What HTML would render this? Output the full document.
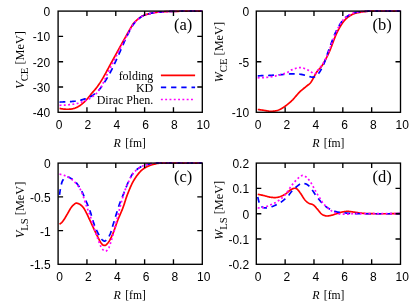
<!DOCTYPE html>
<html><head><meta charset="utf-8"><title>Optical potentials</title>
<style>html,body{margin:0;padding:0;background:#fff;}body{width:415px;height:303px;overflow:hidden;font-family:"Liberation Sans",sans-serif;}svg{display:block;will-change:transform;}</style>
</head><body>
<svg width="415" height="303" viewBox="0 0 415 303">
<rect width="100%" height="100%" fill="#fff"/>
<g>
<clipPath id="clipa"><rect x="58.10" y="10.10" width="144.20" height="103.20"/></clipPath>
<path d="M59.54,108.40L59.86,108.46 60.33,108.55 60.81,108.64 61.30,108.73 61.79,108.81 62.26,108.89 62.72,108.96 63.15,109.01 63.55,109.06 63.96,109.10 64.35,109.14 64.75,109.17 65.14,109.20 65.54,109.22 65.93,109.24 66.32,109.26 66.71,109.27 67.11,109.27 67.50,109.27 67.91,109.26 68.31,109.25 68.72,109.24 69.12,109.22 69.53,109.20 69.95,109.17 70.36,109.14 70.77,109.10 71.18,109.05 71.59,108.99 72.00,108.92 72.40,108.85 72.81,108.76 73.21,108.66 73.61,108.55 74.01,108.44 74.41,108.32 74.80,108.19 75.20,108.05 75.59,107.90 75.99,107.74 76.38,107.57 76.78,107.38 77.17,107.19 77.57,106.99 77.96,106.77 78.36,106.54 78.76,106.30 79.16,106.05 79.56,105.78 79.96,105.51 80.35,105.23 80.75,104.93 81.15,104.64 81.54,104.33 81.93,104.02 82.33,103.70 82.71,103.37 83.10,103.05 83.48,102.71 83.86,102.37 84.24,102.02 84.61,101.67 84.99,101.30 85.38,100.92 85.76,100.53 86.15,100.12 86.54,99.71 86.94,99.27 87.35,98.81 87.76,98.34 88.17,97.84 88.60,97.32 89.02,96.79 89.45,96.26 89.87,95.72 90.30,95.18 90.73,94.64 91.15,94.10 91.57,93.58 91.99,93.07 92.40,92.58 92.80,92.11 93.20,91.66 93.60,91.21 94.00,90.76 94.40,90.31 94.80,89.86 95.20,89.38 95.61,88.89 96.03,88.38 96.45,87.83 96.89,87.25 97.33,86.66 97.76,86.07 98.19,85.47 98.62,84.86 99.05,84.24 99.50,83.58 99.96,82.90 100.43,82.16 100.93,81.38 101.45,80.54 102.00,79.63 102.59,78.65 103.21,77.58 103.86,76.42 104.55,75.18 105.27,73.88 106.00,72.53 106.75,71.14 107.52,69.72 108.28,68.30 109.05,66.87 109.82,65.45 110.57,64.06 111.31,62.71 112.05,61.37 112.80,60.00 113.56,58.62 114.33,57.23 115.09,55.84 115.86,54.46 116.61,53.09 117.35,51.75 118.08,50.44 118.78,49.17 119.46,47.94 120.11,46.77 120.73,45.65 121.33,44.56 121.92,43.51 122.49,42.48 123.04,41.49 123.58,40.53 124.09,39.60 124.60,38.70 125.08,37.83 125.56,36.98 126.01,36.17 126.45,35.39 126.87,34.64 127.26,33.94 127.63,33.28 127.98,32.65 128.32,32.05 128.64,31.48 128.95,30.93 129.26,30.39 129.56,29.87 129.87,29.35 130.17,28.83 130.49,28.30 130.80,27.79 131.09,27.29 131.36,26.80 131.63,26.33 131.90,25.86 132.16,25.41 132.44,24.96 132.73,24.52 133.03,24.08 133.36,23.63 133.71,23.19 134.09,22.74 134.52,22.28 134.98,21.80 135.47,21.32 135.99,20.84 136.52,20.36 137.07,19.88 137.61,19.42 138.16,18.97 138.69,18.54 139.20,18.14 139.69,17.77 140.15,17.43 140.57,17.12 140.95,16.85 141.31,16.61 141.66,16.39 141.99,16.19 142.31,16.01 142.64,15.84 142.99,15.68 143.35,15.52 143.73,15.36 144.16,15.19 144.62,15.02 145.12,14.84 145.66,14.67 146.23,14.49 146.82,14.32 147.43,14.15 148.05,13.99 148.69,13.83 149.33,13.67 149.96,13.52 150.60,13.38 151.22,13.25 151.83,13.12 152.41,13.01 152.95,12.90 153.46,12.80 153.97,12.71 154.47,12.63 154.98,12.55 155.52,12.47 156.10,12.40 156.73,12.33 157.42,12.26 158.19,12.18 159.04,12.11 159.94,12.04 160.86,11.97 161.80,11.89 162.78,11.82 163.81,11.75 164.90,11.69 166.06,11.62 167.32,11.56 168.67,11.50 170.14,11.45 171.73,11.40 173.46,11.35 175.45,11.31 177.77,11.28 180.33,11.25 183.07,11.22 185.91,11.20 188.78,11.18 191.60,11.16 194.29,11.15 196.78,11.13 199.00,11.12 200.86,11.11 202.30,11.10" fill="none" stroke="#ff0000" stroke-width="1.7" clip-path="url(#clipa)"/>
<path d="M59.54,102.03L59.87,102.03 60.65,102.02 61.50,102.00 62.40,101.99 63.33,101.97 64.28,101.95 65.23,101.92 66.17,101.89 67.06,101.85 67.91,101.80 68.72,101.75 69.53,101.69 70.34,101.64 71.15,101.58 71.96,101.51 72.76,101.44 73.57,101.36 74.37,101.27 75.18,101.17 75.98,101.05 76.77,100.93 77.57,100.79 78.37,100.63 79.20,100.45 80.03,100.26 80.87,100.06 81.71,99.84 82.54,99.62 83.36,99.39 84.15,99.16 84.91,98.93 85.63,98.70 86.31,98.47 86.94,98.26 87.51,98.05 88.03,97.85 88.51,97.65 88.95,97.46 89.36,97.26 89.74,97.06 90.11,96.86 90.48,96.66 90.84,96.44 91.20,96.22 91.59,95.98 91.99,95.73 92.40,95.47 92.82,95.20 93.23,94.92 93.65,94.64 94.06,94.35 94.47,94.05 94.88,93.74 95.29,93.43 95.70,93.10 96.10,92.77 96.50,92.42 96.89,92.06 97.28,91.69 97.66,91.31 98.04,90.93 98.42,90.53 98.79,90.13 99.16,89.71 99.53,89.29 99.90,88.85 100.26,88.40 100.63,87.95 100.99,87.48 101.36,87.00 101.72,86.51 102.08,86.02 102.43,85.52 102.79,85.00 103.14,84.48 103.49,83.95 103.84,83.40 104.20,82.84 104.56,82.26 104.92,81.67 105.30,81.05 105.69,80.42 106.09,79.76 106.50,79.06 106.93,78.33 107.37,77.58 107.81,76.82 108.25,76.04 108.70,75.26 109.13,74.49 109.56,73.73 109.97,72.98 110.36,72.26 110.73,71.57 111.08,70.90 111.42,70.26 111.74,69.64 112.04,69.03 112.34,68.43 112.63,67.84 112.91,67.25 113.19,66.66 113.47,66.06 113.75,65.46 114.04,64.85 114.34,64.23 114.64,63.60 114.93,62.98 115.22,62.35 115.51,61.73 115.80,61.10 116.10,60.47 116.39,59.82 116.69,59.17 116.99,58.50 117.30,57.82 117.62,57.11 117.94,56.39 118.28,55.63 118.62,54.85 118.98,54.05 119.34,53.23 119.70,52.39 120.07,51.55 120.44,50.70 120.81,49.85 121.18,49.00 121.55,48.16 121.91,47.33 122.27,46.52 122.62,45.72 122.98,44.91 123.33,44.11 123.68,43.31 124.03,42.51 124.38,41.71 124.73,40.93 125.07,40.15 125.42,39.38 125.76,38.63 126.11,37.88 126.45,37.16 126.79,36.45 127.14,35.74 127.48,35.04 127.82,34.36 128.17,33.68 128.51,33.02 128.84,32.36 129.18,31.72 129.51,31.10 129.84,30.49 130.17,29.89 130.49,29.32 130.80,28.76 131.09,28.23 131.36,27.72 131.63,27.23 131.90,26.75 132.16,26.28 132.44,25.82 132.73,25.36 133.03,24.90 133.36,24.44 133.71,23.98 134.09,23.50 134.52,23.00 134.98,22.49 135.47,21.97 135.99,21.44 136.52,20.91 137.07,20.38 137.61,19.87 138.16,19.37 138.69,18.90 139.20,18.46 139.69,18.05 140.15,17.68 140.57,17.35 140.95,17.06 141.31,16.80 141.66,16.57 141.99,16.37 142.31,16.18 142.64,16.00 142.99,15.83 143.35,15.67 143.73,15.50 144.16,15.33 144.62,15.15 145.12,14.96 145.66,14.77 146.23,14.58 146.82,14.40 147.43,14.22 148.05,14.04 148.69,13.87 149.33,13.70 149.96,13.55 150.60,13.40 151.22,13.26 151.83,13.12 152.41,13.00 152.95,12.89 153.46,12.79 153.97,12.70 154.47,12.62 154.98,12.54 155.52,12.46 156.10,12.39 156.73,12.32 157.42,12.25 158.19,12.18 159.04,12.11 159.94,12.04 160.86,11.97 161.80,11.89 162.78,11.82 163.81,11.75 164.90,11.69 166.06,11.62 167.32,11.56 168.67,11.50 170.14,11.45 171.73,11.40 173.46,11.35 175.45,11.31 177.77,11.28 180.33,11.25 183.07,11.22 185.91,11.20 188.78,11.18 191.60,11.16 194.29,11.15 196.78,11.13 199.00,11.12 200.86,11.11 202.30,11.10" fill="none" stroke="#0000ff" stroke-width="1.7" stroke-dasharray="5.8 4.6" clip-path="url(#clipa)"/>
<path d="M59.54,105.29L59.87,105.28 60.65,105.25 61.50,105.22 62.40,105.18 63.33,105.14 64.28,105.10 65.23,105.05 66.17,104.99 67.06,104.92 67.91,104.84 68.72,104.75 69.53,104.66 70.34,104.57 71.15,104.47 71.96,104.37 72.76,104.25 73.57,104.13 74.37,103.99 75.18,103.85 75.98,103.69 76.77,103.51 77.57,103.32 78.37,103.11 79.20,102.87 80.03,102.61 80.87,102.34 81.71,102.06 82.54,101.77 83.36,101.47 84.15,101.17 84.91,100.88 85.63,100.58 86.31,100.30 86.94,100.03 87.51,99.77 88.03,99.52 88.51,99.28 88.95,99.04 89.36,98.80 89.74,98.57 90.11,98.33 90.48,98.08 90.84,97.83 91.20,97.56 91.59,97.29 91.99,96.99 92.40,96.69 92.82,96.38 93.24,96.07 93.66,95.75 94.08,95.42 94.49,95.08 94.91,94.73 95.31,94.37 95.72,94.00 96.12,93.62 96.51,93.23 96.89,92.82 97.27,92.39 97.64,91.96 98.00,91.50 98.36,91.04 98.72,90.56 99.07,90.08 99.42,89.58 99.76,89.08 100.09,88.56 100.42,88.05 100.75,87.53 101.07,87.00 101.38,86.47 101.69,85.94 101.98,85.40 102.26,84.86 102.54,84.32 102.82,83.76 103.10,83.19 103.37,82.61 103.65,82.02 103.94,81.42 104.23,80.80 104.53,80.17 104.84,79.51 105.16,78.82 105.48,78.11 105.80,77.39 106.13,76.65 106.46,75.90 106.79,75.15 107.12,74.41 107.45,73.67 107.78,72.95 108.11,72.25 108.43,71.57 108.74,70.91 109.06,70.27 109.38,69.64 109.69,69.02 110.01,68.41 110.32,67.80 110.63,67.21 110.94,66.61 111.25,66.02 111.56,65.42 111.87,64.83 112.18,64.23 112.48,63.64 112.78,63.05 113.07,62.48 113.36,61.91 113.65,61.34 113.94,60.77 114.23,60.19 114.53,59.61 114.83,59.02 115.14,58.41 115.45,57.79 115.78,57.15 116.11,56.49 116.44,55.84 116.76,55.18 117.09,54.51 117.43,53.84 117.77,53.15 118.12,52.44 118.49,51.71 118.87,50.96 119.26,50.19 119.67,49.38 120.11,48.54 120.57,47.65 121.07,46.70 121.60,45.70 122.16,44.66 122.72,43.60 123.30,42.54 123.87,41.47 124.43,40.42 124.98,39.40 125.50,38.42 126.00,37.50 126.45,36.65 126.87,35.86 127.26,35.12 127.63,34.41 127.98,33.74 128.32,33.10 128.64,32.48 128.95,31.88 129.26,31.30 129.56,30.74 129.87,30.18 130.17,29.62 130.49,29.06 130.80,28.52 131.09,27.99 131.36,27.48 131.63,26.98 131.90,26.50 132.16,26.03 132.44,25.56 132.73,25.10 133.03,24.64 133.36,24.18 133.71,23.71 134.09,23.24 134.52,22.76 134.98,22.27 135.47,21.76 135.99,21.26 136.52,20.75 137.07,20.26 137.61,19.77 138.16,19.30 138.69,18.85 139.20,18.43 139.69,18.03 140.15,17.68 140.57,17.36 140.95,17.07 141.31,16.82 141.66,16.59 141.99,16.38 142.31,16.19 142.64,16.01 142.99,15.84 143.35,15.67 143.73,15.51 144.16,15.33 144.62,15.15 145.12,14.96 145.66,14.77 146.23,14.58 146.82,14.40 147.43,14.22 148.05,14.04 148.69,13.87 149.33,13.70 149.96,13.55 150.60,13.40 151.22,13.26 151.83,13.12 152.41,13.00 152.95,12.89 153.46,12.79 153.97,12.70 154.47,12.62 154.98,12.54 155.52,12.46 156.10,12.39 156.73,12.32 157.42,12.25 158.19,12.18 159.04,12.11 159.94,12.04 160.86,11.97 161.80,11.89 162.78,11.82 163.81,11.75 164.90,11.69 166.06,11.62 167.32,11.56 168.67,11.50 170.14,11.45 171.73,11.40 173.46,11.35 175.45,11.31 177.77,11.28 180.33,11.25 183.07,11.22 185.91,11.20 188.78,11.18 191.60,11.16 194.29,11.15 196.78,11.13 199.00,11.12 200.86,11.11 202.30,11.10" fill="none" stroke="#ff00ff" stroke-width="1.7" stroke-dasharray="1.9 2.4" clip-path="url(#clipa)"/>
<rect x="58.10" y="11.10" width="144.20" height="101.20" fill="none" stroke="#000" stroke-width="1.35"/>
<path d="M86.94,112.30v-5M86.94,11.10v5M115.78,112.30v-5M115.78,11.10v5M144.62,112.30v-5M144.62,11.10v5M173.46,112.30v-5M173.46,11.10v5M58.10,36.40h5M202.30,36.40h-5M58.10,61.70h5M202.30,61.70h-5M58.10,87.00h5M202.30,87.00h-5" stroke="#000" stroke-width="1.35" fill="none"/>
<text x="59.10" y="128.50" text-anchor="middle" font-family="Liberation Sans, sans-serif" font-size="12">0</text>
<text x="87.94" y="128.50" text-anchor="middle" font-family="Liberation Sans, sans-serif" font-size="12">2</text>
<text x="116.78" y="128.50" text-anchor="middle" font-family="Liberation Sans, sans-serif" font-size="12">4</text>
<text x="145.62" y="128.50" text-anchor="middle" font-family="Liberation Sans, sans-serif" font-size="12">6</text>
<text x="174.46" y="128.50" text-anchor="middle" font-family="Liberation Sans, sans-serif" font-size="12">8</text>
<text x="203.30" y="128.50" text-anchor="middle" font-family="Liberation Sans, sans-serif" font-size="12">10</text>
<text x="50.10" y="16.10" text-anchor="end" font-family="Liberation Sans, sans-serif" font-size="12">0</text>
<text x="50.10" y="41.40" text-anchor="end" font-family="Liberation Sans, sans-serif" font-size="12">-10</text>
<text x="50.10" y="66.70" text-anchor="end" font-family="Liberation Sans, sans-serif" font-size="12">-20</text>
<text x="50.10" y="92.00" text-anchor="end" font-family="Liberation Sans, sans-serif" font-size="12">-30</text>
<text x="50.10" y="117.30" text-anchor="end" font-family="Liberation Sans, sans-serif" font-size="12">-40</text>
<text x="113.60" y="147.30" font-family="Liberation Serif, serif" font-size="12"><tspan font-style="italic">R</tspan><tspan dx="4.3" font-size="11.6">[fm]</tspan></text>
<text transform="translate(24.10,59.90) rotate(-90)" text-anchor="middle" font-family="Liberation Serif, serif" font-size="12"><tspan font-style="italic">V</tspan><tspan font-size="10.7" dy="3.8">CE</tspan><tspan dy="-3.8" font-size="12.3"> [MeV]</tspan></text>
<text x="183.10" y="30.20" text-anchor="middle" font-family="Liberation Serif, serif" font-size="16.5">(a)</text>
<text x="153.30" y="79.70" text-anchor="end" font-family="Liberation Serif, serif" font-size="12">folding</text>
<path d="M160.9,75.30H195.1" fill="none" stroke="#ff0000" stroke-width="1.7"/>
<text x="153.30" y="91.80" text-anchor="end" font-family="Liberation Serif, serif" font-size="12">KD</text>
<path d="M160.9,87.40H195.1" fill="none" stroke="#0000ff" stroke-width="1.7" stroke-dasharray="5.3 4.9"/>
<text x="153.30" y="103.90" text-anchor="end" font-family="Liberation Serif, serif" font-size="12">Dirac Phen.</text>
<path d="M160.9,99.50H195.1" fill="none" stroke="#ff00ff" stroke-width="1.7" stroke-dasharray="1.9 2.4"/>
</g>
<g>
<clipPath id="clipb"><rect x="256.30" y="10.10" width="144.20" height="103.20"/></clipPath>
<path d="M257.74,109.47L258.17,109.53 258.79,109.61 259.45,109.71 260.14,109.80 260.84,109.90 261.54,110.00 262.22,110.10 262.89,110.19 263.51,110.28 264.11,110.37 264.71,110.47 265.31,110.58 265.91,110.69 266.51,110.80 267.12,110.91 267.72,111.01 268.32,111.10 268.92,111.18 269.52,111.24 270.12,111.27 270.72,111.29 271.32,111.28 271.92,111.27 272.52,111.25 273.12,111.21 273.72,111.16 274.33,111.10 274.93,111.02 275.53,110.91 276.13,110.79 276.73,110.64 277.33,110.47 277.93,110.28 278.53,110.05 279.13,109.80 279.73,109.52 280.33,109.23 280.93,108.91 281.54,108.57 282.14,108.21 282.74,107.84 283.34,107.45 283.94,107.05 284.54,106.65 285.14,106.23 285.74,105.80 286.34,105.36 286.94,104.90 287.54,104.43 288.14,103.94 288.75,103.44 289.35,102.93 289.95,102.40 290.55,101.86 291.15,101.31 291.75,100.74 292.35,100.16 292.95,99.55 293.55,98.90 294.15,98.23 294.75,97.53 295.35,96.82 295.95,96.11 296.56,95.39 297.16,94.68 297.76,93.99 298.36,93.32 298.96,92.67 299.56,92.06 300.17,91.48 300.80,90.91 301.43,90.35 302.07,89.81 302.71,89.28 303.35,88.77 303.97,88.27 304.58,87.79 305.17,87.32 305.74,86.86 306.27,86.42 306.77,85.99 307.23,85.60 307.64,85.27 308.02,84.98 308.37,84.71 308.70,84.47 309.02,84.22 309.34,83.95 309.65,83.66 309.98,83.33 310.32,82.94 310.69,82.48 311.10,81.94 311.53,81.30 311.97,80.57 312.44,79.77 312.91,78.90 313.40,78.00 313.89,77.07 314.39,76.13 314.89,75.19 315.39,74.28 315.89,73.40 316.38,72.58 316.86,71.82 317.34,71.14 317.81,70.53 318.28,69.98 318.75,69.46 319.22,68.96 319.68,68.47 320.16,67.96 320.63,67.43 321.12,66.86 321.61,66.23 322.12,65.53 322.63,64.74 323.16,63.87 323.70,62.95 324.25,61.99 324.80,60.99 325.36,59.94 325.93,58.85 326.50,57.73 327.08,56.57 327.66,55.37 328.24,54.14 328.83,52.87 329.41,51.58 330.00,50.22 330.59,48.77 331.18,47.24 331.78,45.66 332.38,44.04 332.99,42.41 333.59,40.78 334.20,39.17 334.81,37.61 335.41,36.11 336.02,34.69 336.62,33.36 337.22,32.12 337.82,30.92 338.42,29.76 339.02,28.64 339.62,27.57 340.22,26.53 340.83,25.54 341.43,24.59 342.03,23.69 342.63,22.82 343.23,22.00 343.83,21.22 344.43,20.49 345.03,19.82 345.63,19.19 346.23,18.62 346.83,18.08 347.43,17.58 348.04,17.12 348.64,16.68 349.24,16.27 349.84,15.88 350.44,15.51 351.04,15.15 351.62,14.81 352.17,14.51 352.70,14.24 353.21,14.00 353.73,13.79 354.26,13.60 354.81,13.42 355.39,13.26 356.01,13.10 356.69,12.94 357.43,12.78 358.25,12.62 359.10,12.45 359.95,12.29 360.80,12.13 361.69,11.98 362.62,11.84 363.60,11.70 364.66,11.57 365.82,11.46 367.08,11.35 368.46,11.25 369.98,11.17 371.66,11.10 373.61,11.05 375.91,11.01 378.46,10.99 381.20,10.99 384.04,10.99 386.92,11.01 389.75,11.02 392.45,11.04 394.96,11.06 397.18,11.08 399.06,11.10 400.50,11.10" fill="none" stroke="#ff0000" stroke-width="1.7" clip-path="url(#clipb)"/>
<path d="M257.74,75.82L257.87,75.82 258.89,75.79 260.04,75.76 261.29,75.72 262.61,75.68 263.98,75.63 265.38,75.59 266.78,75.54 268.15,75.48 269.47,75.42 270.72,75.36 271.94,75.29 273.21,75.22 274.49,75.13 275.79,75.04 277.09,74.95 278.38,74.86 279.64,74.76 280.87,74.67 282.04,74.58 283.15,74.50 284.19,74.42 285.14,74.35 285.99,74.29 286.76,74.23 287.45,74.17 288.08,74.11 288.66,74.06 289.20,74.01 289.71,73.97 290.21,73.93 290.72,73.90 291.23,73.88 291.77,73.86 292.35,73.84 292.95,73.84 293.55,73.83 294.15,73.83 294.75,73.84 295.35,73.85 295.95,73.87 296.56,73.89 297.16,73.93 297.76,73.97 298.36,74.02 298.96,74.08 299.56,74.15 300.17,74.23 300.78,74.33 301.40,74.44 302.02,74.56 302.64,74.69 303.26,74.83 303.87,74.97 304.47,75.11 305.07,75.26 305.65,75.40 306.22,75.54 306.77,75.67 307.31,75.80 307.84,75.95 308.36,76.11 308.88,76.28 309.39,76.44 309.88,76.60 310.36,76.75 310.83,76.89 311.28,77.00 311.72,77.09 312.14,77.16 312.54,77.18 312.92,77.18 313.27,77.15 313.60,77.10 313.92,77.03 314.22,76.93 314.51,76.82 314.79,76.70 315.06,76.55 315.33,76.40 315.60,76.23 315.87,76.05 316.14,75.87 316.42,75.67 316.68,75.46 316.94,75.23 317.20,74.99 317.45,74.74 317.70,74.47 317.95,74.19 318.19,73.90 318.44,73.60 318.68,73.29 318.93,72.96 319.17,72.63 319.42,72.29 319.66,71.93 319.90,71.57 320.14,71.19 320.38,70.81 320.62,70.41 320.86,70.00 321.10,69.58 321.34,69.15 321.58,68.70 321.82,68.24 322.06,67.77 322.29,67.30 322.53,66.82 322.76,66.33 323.00,65.84 323.23,65.33 323.46,64.81 323.70,64.27 323.94,63.71 324.18,63.13 324.43,62.52 324.68,61.87 324.94,61.19 325.20,60.50 325.44,59.81 325.68,59.11 325.91,58.40 326.15,57.66 326.40,56.89 326.66,56.08 326.95,55.22 327.26,54.29 327.60,53.30 327.98,52.23 328.40,51.07 328.87,49.79 329.38,48.38 329.94,46.84 330.53,45.23 331.14,43.55 331.77,41.84 332.42,40.12 333.07,38.42 333.72,36.77 334.36,35.19 335.00,33.71 335.61,32.35 336.21,31.09 336.81,29.87 337.41,28.70 338.01,27.57 338.61,26.49 339.22,25.46 339.82,24.47 340.42,23.53 341.02,22.63 341.62,21.78 342.22,20.97 342.82,20.21 343.42,19.50 344.02,18.86 344.62,18.28 345.22,17.75 345.82,17.27 346.42,16.82 347.03,16.41 347.63,16.03 348.23,15.67 348.83,15.32 349.43,14.98 350.03,14.64 350.61,14.32 351.15,14.03 351.66,13.76 352.17,13.52 352.67,13.30 353.18,13.09 353.72,12.90 354.30,12.73 354.93,12.57 355.62,12.41 356.39,12.26 357.24,12.11 358.14,11.97 359.06,11.84 360.00,11.73 360.98,11.62 362.01,11.53 363.10,11.45 364.26,11.37 365.52,11.31 366.87,11.25 368.34,11.19 369.93,11.14 371.66,11.10 373.65,11.06 375.97,11.04 378.53,11.03 381.27,11.03 384.11,11.03 386.98,11.04 389.80,11.05 392.49,11.06 394.98,11.08 397.20,11.09 399.06,11.10 400.50,11.10" fill="none" stroke="#0000ff" stroke-width="1.7" stroke-dasharray="5.8 4.6" clip-path="url(#clipb)"/>
<path d="M257.74,77.82L257.87,77.81 258.89,77.77 260.04,77.72 261.29,77.67 262.61,77.61 263.98,77.53 265.38,77.44 266.78,77.33 268.15,77.21 269.47,77.06 270.72,76.88 271.94,76.67 273.21,76.44 274.49,76.18 275.79,75.89 277.09,75.59 278.38,75.28 279.64,74.96 280.87,74.63 282.04,74.30 283.15,73.97 284.19,73.65 285.14,73.34 285.99,73.03 286.76,72.71 287.45,72.38 288.08,72.04 288.66,71.71 289.20,71.37 289.71,71.04 290.21,70.72 290.72,70.41 291.23,70.12 291.77,69.85 292.35,69.59 292.95,69.35 293.56,69.12 294.18,68.89 294.79,68.66 295.41,68.45 296.02,68.26 296.63,68.08 297.23,67.93 297.83,67.79 298.42,67.69 298.99,67.61 299.56,67.57 300.12,67.56 300.67,67.59 301.21,67.65 301.76,67.74 302.29,67.85 302.81,67.99 303.33,68.14 303.84,68.30 304.34,68.47 304.82,68.64 305.30,68.81 305.76,68.99 306.21,69.17 306.65,69.36 307.08,69.57 307.50,69.80 307.91,70.03 308.31,70.26 308.70,70.50 309.08,70.74 309.45,70.97 309.82,71.20 310.17,71.42 310.52,71.62 310.86,71.82 311.19,72.02 311.51,72.23 311.82,72.43 312.12,72.64 312.41,72.83 312.70,73.02 312.97,73.18 313.24,73.33 313.49,73.46 313.74,73.57 313.98,73.64 314.21,73.69 314.42,73.72 314.61,73.74 314.80,73.73 314.97,73.71 315.14,73.67 315.31,73.61 315.47,73.53 315.63,73.43 315.80,73.32 315.97,73.19 316.14,73.03 316.32,72.86 316.50,72.65 316.67,72.42 316.84,72.17 317.01,71.90 317.18,71.62 317.35,71.32 317.53,71.02 317.71,70.71 317.90,70.40 318.10,70.10 318.31,69.80 318.52,69.50 318.74,69.19 318.98,68.89 319.21,68.57 319.46,68.26 319.70,67.94 319.95,67.61 320.20,67.28 320.45,66.95 320.70,66.62 320.95,66.29 321.19,65.95 321.43,65.63 321.65,65.32 321.88,65.03 322.10,64.74 322.32,64.45 322.54,64.15 322.77,63.84 323.01,63.49 323.25,63.11 323.51,62.69 323.78,62.23 324.07,61.70 324.37,61.14 324.68,60.58 324.99,60.00 325.30,59.40 325.63,58.76 325.97,58.08 326.32,57.35 326.69,56.56 327.08,55.69 327.50,54.75 327.93,53.72 328.40,52.59 328.90,51.32 329.43,49.90 330.00,48.35 330.59,46.71 331.20,44.99 331.82,43.23 332.46,41.46 333.10,39.70 333.74,37.98 334.37,36.33 335.00,34.79 335.61,33.36 336.21,32.03 336.81,30.73 337.41,29.47 338.01,28.25 338.61,27.07 339.22,25.93 339.82,24.84 340.42,23.81 341.02,22.82 341.62,21.89 342.22,21.02 342.82,20.21 343.42,19.47 344.02,18.81 344.62,18.21 345.22,17.68 345.82,17.20 346.42,16.76 347.03,16.36 347.63,15.99 348.23,15.64 348.83,15.31 349.43,14.98 350.03,14.64 350.61,14.32 351.15,14.03 351.66,13.76 352.17,13.52 352.67,13.30 353.18,13.09 353.72,12.90 354.30,12.73 354.93,12.57 355.62,12.41 356.39,12.26 357.24,12.11 358.14,11.97 359.06,11.84 360.00,11.73 360.98,11.62 362.01,11.53 363.10,11.45 364.26,11.37 365.52,11.31 366.87,11.25 368.34,11.19 369.93,11.14 371.66,11.10 373.65,11.06 375.97,11.04 378.53,11.03 381.27,11.03 384.11,11.03 386.98,11.04 389.80,11.05 392.49,11.06 394.98,11.08 397.20,11.09 399.06,11.10 400.50,11.10" fill="none" stroke="#ff00ff" stroke-width="1.7" stroke-dasharray="1.9 2.4" clip-path="url(#clipb)"/>
<rect x="256.30" y="11.10" width="144.20" height="101.20" fill="none" stroke="#000" stroke-width="1.35"/>
<path d="M285.14,112.30v-5M285.14,11.10v5M313.98,112.30v-5M313.98,11.10v5M342.82,112.30v-5M342.82,11.10v5M371.66,112.30v-5M371.66,11.10v5M256.30,61.70h5M400.50,61.70h-5" stroke="#000" stroke-width="1.35" fill="none"/>
<text x="258.10" y="128.50" text-anchor="middle" font-family="Liberation Sans, sans-serif" font-size="12">0</text>
<text x="286.94" y="128.50" text-anchor="middle" font-family="Liberation Sans, sans-serif" font-size="12">2</text>
<text x="315.78" y="128.50" text-anchor="middle" font-family="Liberation Sans, sans-serif" font-size="12">4</text>
<text x="344.62" y="128.50" text-anchor="middle" font-family="Liberation Sans, sans-serif" font-size="12">6</text>
<text x="373.46" y="128.50" text-anchor="middle" font-family="Liberation Sans, sans-serif" font-size="12">8</text>
<text x="402.30" y="128.50" text-anchor="middle" font-family="Liberation Sans, sans-serif" font-size="12">10</text>
<text x="249.10" y="16.10" text-anchor="end" font-family="Liberation Sans, sans-serif" font-size="12">0</text>
<text x="249.10" y="66.70" text-anchor="end" font-family="Liberation Sans, sans-serif" font-size="12">-5</text>
<text x="249.10" y="117.30" text-anchor="end" font-family="Liberation Sans, sans-serif" font-size="12">-10</text>
<text x="312.20" y="147.30" font-family="Liberation Serif, serif" font-size="12"><tspan font-style="italic">R</tspan><tspan dx="4.3" font-size="11.6">[fm]</tspan></text>
<text transform="translate(222.80,52.10) rotate(-90)" text-anchor="middle" font-family="Liberation Serif, serif" font-size="12"><tspan font-style="italic">W</tspan><tspan font-size="10.7" dy="3.8">CE</tspan><tspan dy="-3.8" font-size="12.3"> [MeV]</tspan></text>
<text x="382.10" y="30.20" text-anchor="middle" font-family="Liberation Serif, serif" font-size="16.5">(b)</text>
</g>
<g>
<clipPath id="clipc"><rect x="58.10" y="162.10" width="144.20" height="103.20"/></clipPath>
<path d="M59.54,224.21L59.60,224.17 59.99,223.90 60.40,223.61 60.82,223.30 61.24,222.96 61.65,222.59 62.05,222.21 62.43,221.80 62.79,221.35 63.15,220.87 63.51,220.36 63.87,219.82 64.23,219.26 64.59,218.68 64.95,218.08 65.31,217.47 65.67,216.86 66.03,216.25 66.39,215.65 66.75,215.05 67.11,214.44 67.48,213.81 67.85,213.15 68.22,212.49 68.59,211.82 68.96,211.15 69.33,210.49 69.69,209.85 70.05,209.24 70.40,208.66 70.74,208.12 71.08,207.63 71.41,207.18 71.73,206.76 72.06,206.37 72.38,206.00 72.69,205.67 73.00,205.35 73.30,205.06 73.59,204.79 73.88,204.54 74.16,204.32 74.43,204.11 74.68,203.92 74.92,203.75 75.14,203.60 75.34,203.47 75.53,203.37 75.71,203.28 75.88,203.22 76.06,203.18 76.24,203.16 76.44,203.15 76.65,203.16 76.88,203.19 77.13,203.24 77.42,203.31 77.72,203.39 78.04,203.49 78.37,203.60 78.71,203.74 79.06,203.90 79.42,204.07 79.78,204.27 80.14,204.48 80.49,204.72 80.84,204.98 81.17,205.27 81.50,205.56 81.81,205.86 82.11,206.16 82.42,206.48 82.72,206.82 83.02,207.19 83.33,207.60 83.64,208.04 83.97,208.53 84.32,209.07 84.68,209.66 85.07,210.33 85.47,211.07 85.90,211.88 86.35,212.77 86.81,213.70 87.28,214.69 87.76,215.71 88.25,216.76 88.74,217.82 89.23,218.88 89.72,219.94 90.21,220.98 90.69,222.00 91.17,223.01 91.65,224.05 92.14,225.10 92.63,226.16 93.13,227.23 93.62,228.30 94.11,229.36 94.59,230.40 95.07,231.42 95.54,232.41 96.01,233.36 96.46,234.28 96.90,235.17 97.34,236.06 97.77,236.94 98.20,237.81 98.63,238.66 99.04,239.47 99.45,240.25 99.85,240.99 100.25,241.68 100.63,242.31 101.00,242.88 101.36,243.39 101.71,243.82 102.04,244.20 102.35,244.52 102.66,244.78 102.95,245.00 103.24,245.18 103.53,245.31 103.81,245.40 104.09,245.45 104.38,245.47 104.67,245.45 104.97,245.41 105.27,245.33 105.57,245.19 105.87,245.01 106.18,244.78 106.48,244.52 106.79,244.23 107.09,243.91 107.39,243.56 107.69,243.20 107.99,242.82 108.28,242.43 108.57,242.04 108.86,241.62 109.15,241.18 109.44,240.71 109.73,240.21 110.02,239.70 110.30,239.17 110.58,238.63 110.86,238.09 111.13,237.55 111.39,237.01 111.64,236.48 111.89,235.96 112.12,235.47 112.34,234.99 112.54,234.53 112.74,234.06 112.93,233.60 113.11,233.14 113.30,232.66 113.49,232.17 113.68,231.65 113.89,231.10 114.11,230.52 114.34,229.89 114.58,229.23 114.82,228.55 115.06,227.85 115.30,227.12 115.56,226.37 115.82,225.59 116.09,224.79 116.37,223.97 116.66,223.12 116.97,222.26 117.30,221.36 117.65,220.45 118.03,219.50 118.44,218.51 118.87,217.48 119.32,216.42 119.79,215.34 120.26,214.25 120.74,213.14 121.21,212.03 121.68,210.91 122.14,209.80 122.57,208.71 122.99,207.63 123.38,206.56 123.75,205.50 124.11,204.43 124.45,203.37 124.79,202.30 125.13,201.24 125.46,200.17 125.80,199.11 126.16,198.04 126.52,196.97 126.91,195.89 127.32,194.81 127.74,193.72 128.18,192.60 128.62,191.47 129.08,190.34 129.54,189.20 130.02,188.06 130.51,186.94 131.00,185.83 131.51,184.74 132.02,183.67 132.55,182.64 133.08,181.65 133.63,180.69 134.20,179.73 134.79,178.79 135.38,177.87 135.99,176.97 136.60,176.09 137.22,175.24 137.84,174.42 138.46,173.64 139.08,172.89 139.69,172.19 140.29,171.53 140.89,170.93 141.50,170.37 142.10,169.85 142.70,169.37 143.30,168.93 143.90,168.52 144.50,168.13 145.10,167.77 145.70,167.43 146.30,167.10 146.90,166.78 147.50,166.47 148.10,166.18 148.69,165.91 149.27,165.66 149.85,165.44 150.44,165.23 151.02,165.04 151.61,164.86 152.20,164.70 152.81,164.54 153.43,164.40 154.06,164.25 154.71,164.11 155.29,163.98 155.72,163.85 156.07,163.74 156.37,163.64 156.68,163.54 157.06,163.46 157.54,163.38 158.19,163.31 159.04,163.25 160.15,163.19 161.58,163.14 163.37,163.10 165.67,163.06 168.55,163.04 171.88,163.03 175.54,163.03 179.41,163.03 183.37,163.04 187.30,163.05 191.08,163.06 194.59,163.08 197.71,163.09 200.32,163.10 202.30,163.10" fill="none" stroke="#ff0000" stroke-width="1.7" clip-path="url(#clipc)"/>
<path d="M59.54,194.81L59.54,194.81 59.65,194.00 59.75,193.24 59.84,192.53 59.94,191.87 60.03,191.25 60.12,190.66 60.21,190.09 60.30,189.54 60.39,189.00 60.49,188.46 60.59,187.93 60.70,187.39 60.80,186.84 60.92,186.30 61.03,185.76 61.14,185.24 61.26,184.73 61.38,184.23 61.50,183.74 61.62,183.28 61.75,182.83 61.88,182.41 62.01,182.02 62.14,181.65 62.27,181.32 62.40,181.01 62.54,180.74 62.68,180.49 62.82,180.26 62.96,180.04 63.10,179.84 63.25,179.66 63.40,179.48 63.55,179.30 63.71,179.13 63.87,178.95 64.03,178.78 64.20,178.62 64.38,178.46 64.56,178.31 64.74,178.17 64.92,178.03 65.11,177.91 65.29,177.79 65.48,177.68 65.67,177.58 65.85,177.49 66.03,177.40 66.21,177.33 66.38,177.26 66.55,177.19 66.73,177.14 66.90,177.09 67.07,177.05 67.24,177.02 67.42,177.00 67.60,177.00 67.79,177.01 67.99,177.03 68.19,177.07 68.40,177.12 68.62,177.18 68.83,177.26 69.05,177.34 69.27,177.44 69.50,177.55 69.74,177.68 69.98,177.82 70.24,177.96 70.51,178.12 70.78,178.30 71.08,178.48 71.38,178.67 71.70,178.85 72.02,179.03 72.36,179.21 72.71,179.41 73.06,179.63 73.43,179.87 73.80,180.14 74.19,180.45 74.58,180.80 74.99,181.20 75.40,181.65 75.84,182.17 76.30,182.74 76.78,183.36 77.27,184.02 77.78,184.73 78.29,185.46 78.80,186.21 79.30,186.98 79.80,187.76 80.28,188.54 80.74,189.32 81.17,190.09 81.58,190.85 81.98,191.63 82.35,192.42 82.72,193.22 83.08,194.03 83.43,194.85 83.77,195.68 84.11,196.51 84.45,197.34 84.79,198.18 85.14,199.03 85.50,199.87 85.86,200.70 86.21,201.52 86.57,202.33 86.92,203.13 87.28,203.94 87.63,204.76 87.99,205.60 88.35,206.47 88.71,207.36 89.08,208.30 89.45,209.29 89.82,210.33 90.20,211.44 90.58,212.62 90.96,213.87 91.34,215.16 91.72,216.49 92.11,217.83 92.51,219.18 92.91,220.52 93.31,221.84 93.73,223.12 94.15,224.34 94.58,225.51 95.03,226.63 95.50,227.76 95.98,228.89 96.47,229.99 96.97,231.08 97.48,232.13 97.98,233.14 98.48,234.10 98.97,235.01 99.44,235.85 99.91,236.62 100.35,237.31 100.78,237.94 101.18,238.51 101.58,239.04 101.97,239.51 102.35,239.93 102.72,240.29 103.09,240.58 103.46,240.81 103.83,240.97 104.20,241.07 104.58,241.08 104.97,241.02 105.36,240.87 105.77,240.60 106.20,240.23 106.62,239.79 107.05,239.27 107.47,238.70 107.89,238.10 108.29,237.46 108.68,236.82 109.05,236.17 109.40,235.55 109.72,234.95 110.01,234.38 110.27,233.80 110.50,233.22 110.72,232.63 110.91,232.03 111.10,231.41 111.29,230.77 111.47,230.12 111.66,229.43 111.86,228.72 112.08,227.98 112.32,227.19 112.58,226.37 112.84,225.50 113.11,224.60 113.39,223.67 113.68,222.71 113.97,221.73 114.26,220.74 114.56,219.73 114.86,218.73 115.17,217.72 115.47,216.72 115.78,215.72 116.09,214.73 116.40,213.72 116.72,212.69 117.04,211.65 117.36,210.61 117.69,209.57 118.02,208.53 118.35,207.50 118.68,206.49 119.01,205.49 119.34,204.52 119.67,203.58 120.00,202.67 120.33,201.78 120.67,200.92 121.00,200.08 121.33,199.25 121.67,198.44 122.00,197.62 122.34,196.81 122.68,195.99 123.02,195.16 123.36,194.32 123.71,193.46 124.06,192.58 124.41,191.68 124.76,190.78 125.10,189.86 125.46,188.94 125.81,188.02 126.17,187.10 126.53,186.19 126.90,185.28 127.27,184.39 127.65,183.52 128.04,182.67 128.43,181.82 128.81,180.97 129.20,180.13 129.59,179.29 129.98,178.46 130.38,177.65 130.79,176.85 131.21,176.07 131.65,175.31 132.11,174.58 132.59,173.88 133.08,173.22 133.61,172.59 134.16,171.97 134.73,171.39 135.33,170.82 135.93,170.28 136.55,169.76 137.18,169.27 137.81,168.80 138.44,168.35 139.07,167.93 139.69,167.53 140.29,167.15 140.88,166.80 141.45,166.49 142.00,166.20 142.54,165.95 143.08,165.72 143.63,165.50 144.19,165.31 144.78,165.12 145.40,164.95 146.05,164.78 146.75,164.62 147.50,164.45 148.21,164.29 148.81,164.13 149.34,163.99 149.85,163.85 150.40,163.72 151.02,163.61 151.77,163.50 152.68,163.40 153.82,163.31 155.23,163.23 156.95,163.16 159.04,163.10 161.67,163.05 164.91,163.02 168.64,163.01 172.71,163.00 177.01,163.00 181.39,163.02 185.74,163.03 189.91,163.05 193.78,163.07 197.23,163.08 200.11,163.10 202.30,163.10" fill="none" stroke="#0000ff" stroke-width="1.7" stroke-dasharray="5.8 4.6" clip-path="url(#clipc)"/>
<path d="M59.54,174.18L59.60,174.19 60.09,174.29 60.62,174.40 61.17,174.52 61.73,174.64 62.29,174.78 62.84,174.93 63.37,175.08 63.87,175.24 64.35,175.41 64.83,175.59 65.31,175.77 65.79,175.96 66.27,176.16 66.75,176.37 67.23,176.60 67.71,176.83 68.19,177.08 68.67,177.35 69.16,177.64 69.64,177.94 70.12,178.26 70.60,178.59 71.08,178.93 71.56,179.29 72.05,179.66 72.53,180.04 73.01,180.45 73.49,180.87 73.97,181.32 74.45,181.79 74.93,182.28 75.40,182.80 75.88,183.33 76.35,183.85 76.81,184.37 77.28,184.91 77.74,185.46 78.21,186.05 78.67,186.68 79.14,187.36 79.60,188.10 80.08,188.90 80.55,189.79 81.03,190.76 81.52,191.86 82.02,193.10 82.54,194.45 83.06,195.89 83.59,197.38 84.11,198.91 84.63,200.45 85.13,201.96 85.62,203.43 86.08,204.83 86.53,206.12 86.94,207.29 87.32,208.34 87.67,209.30 88.00,210.19 88.31,211.01 88.61,211.79 88.89,212.54 89.16,213.27 89.43,213.99 89.70,214.71 89.97,215.46 90.25,216.24 90.55,217.07 90.85,217.94 91.15,218.81 91.45,219.70 91.75,220.60 92.05,221.50 92.35,222.41 92.65,223.32 92.95,224.23 93.25,225.15 93.55,226.06 93.85,226.97 94.15,227.87 94.45,228.77 94.75,229.69 95.05,230.61 95.35,231.54 95.65,232.47 95.95,233.39 96.25,234.31 96.55,235.21 96.85,236.11 97.15,236.98 97.45,237.83 97.76,238.66 98.06,239.48 98.36,240.30 98.66,241.12 98.96,241.92 99.26,242.72 99.56,243.49 99.86,244.24 100.16,244.96 100.46,245.64 100.76,246.29 101.06,246.89 101.36,247.43 101.66,247.94 101.97,248.41 102.28,248.84 102.59,249.24 102.90,249.61 103.21,249.94 103.51,250.24 103.82,250.49 104.11,250.71 104.41,250.90 104.69,251.04 104.97,251.14 105.23,251.20 105.50,251.21 105.75,251.17 106.01,251.09 106.25,250.98 106.50,250.83 106.73,250.65 106.97,250.44 107.20,250.22 107.42,249.98 107.64,249.72 107.85,249.46 108.05,249.21 108.22,248.98 108.38,248.76 108.53,248.53 108.67,248.29 108.81,248.00 108.96,247.67 109.13,247.27 109.31,246.79 109.51,246.22 109.74,245.54 110.01,244.73 110.32,243.79 110.66,242.70 111.04,241.49 111.44,240.19 111.85,238.80 112.28,237.36 112.72,235.87 113.15,234.36 113.58,232.86 114.00,231.37 114.40,229.93 114.77,228.54 115.12,227.20 115.46,225.87 115.78,224.54 116.09,223.22 116.40,221.90 116.70,220.57 117.00,219.24 117.31,217.90 117.63,216.54 117.96,215.17 118.30,213.77 118.66,212.35 119.05,210.88 119.45,209.35 119.86,207.77 120.29,206.17 120.72,204.55 121.16,202.93 121.60,201.32 122.04,199.76 122.47,198.24 122.90,196.78 123.31,195.41 123.71,194.13 124.09,192.95 124.47,191.85 124.83,190.81 125.18,189.84 125.53,188.91 125.87,188.02 126.22,187.16 126.57,186.33 126.92,185.50 127.28,184.68 127.65,183.85 128.04,183.00 128.43,182.15 128.81,181.30 129.20,180.45 129.59,179.62 129.98,178.79 130.38,177.98 130.79,177.19 131.21,176.42 131.65,175.67 132.11,174.94 132.59,174.23 133.08,173.56 133.61,172.91 134.16,172.27 134.73,171.65 135.33,171.06 135.93,170.48 136.55,169.93 137.18,169.40 137.81,168.90 138.44,168.42 139.07,167.97 139.69,167.54 140.29,167.15 140.88,166.79 141.45,166.47 142.00,166.18 142.54,165.92 143.08,165.69 143.63,165.48 144.19,165.29 144.78,165.11 145.40,164.94 146.05,164.78 146.75,164.62 147.50,164.45 148.21,164.29 148.81,164.13 149.34,163.99 149.85,163.85 150.40,163.72 151.02,163.61 151.77,163.50 152.68,163.40 153.82,163.31 155.23,163.23 156.95,163.16 159.04,163.10 161.67,163.05 164.91,163.02 168.64,163.01 172.71,163.00 177.01,163.00 181.39,163.02 185.74,163.03 189.91,163.05 193.78,163.07 197.23,163.08 200.11,163.10 202.30,163.10" fill="none" stroke="#ff00ff" stroke-width="1.7" stroke-dasharray="1.9 2.4" clip-path="url(#clipc)"/>
<rect x="58.10" y="163.10" width="144.20" height="101.20" fill="none" stroke="#000" stroke-width="1.35"/>
<path d="M86.94,264.30v-5M86.94,163.10v5M115.78,264.30v-5M115.78,163.10v5M144.62,264.30v-5M144.62,163.10v5M173.46,264.30v-5M173.46,163.10v5M58.10,196.83h5M202.30,196.83h-5M58.10,230.57h5M202.30,230.57h-5" stroke="#000" stroke-width="1.35" fill="none"/>
<text x="59.60" y="280.50" text-anchor="middle" font-family="Liberation Sans, sans-serif" font-size="12">0</text>
<text x="88.44" y="280.50" text-anchor="middle" font-family="Liberation Sans, sans-serif" font-size="12">2</text>
<text x="117.28" y="280.50" text-anchor="middle" font-family="Liberation Sans, sans-serif" font-size="12">4</text>
<text x="146.12" y="280.50" text-anchor="middle" font-family="Liberation Sans, sans-serif" font-size="12">6</text>
<text x="174.96" y="280.50" text-anchor="middle" font-family="Liberation Sans, sans-serif" font-size="12">8</text>
<text x="203.80" y="280.50" text-anchor="middle" font-family="Liberation Sans, sans-serif" font-size="12">10</text>
<text x="50.60" y="168.10" text-anchor="end" font-family="Liberation Sans, sans-serif" font-size="12">0</text>
<text x="50.60" y="201.83" text-anchor="end" font-family="Liberation Sans, sans-serif" font-size="12">-0.5</text>
<text x="50.60" y="235.57" text-anchor="end" font-family="Liberation Sans, sans-serif" font-size="12">-1</text>
<text x="50.60" y="269.30" text-anchor="end" font-family="Liberation Sans, sans-serif" font-size="12">-1.5</text>
<text x="113.60" y="299.30" font-family="Liberation Serif, serif" font-size="12"><tspan font-style="italic">R</tspan><tspan dx="4.3" font-size="11.6">[fm]</tspan></text>
<text transform="translate(24.10,209.90) rotate(-90)" text-anchor="middle" font-family="Liberation Serif, serif" font-size="12"><tspan font-style="italic">V</tspan><tspan font-size="10.7" dy="3.8">LS</tspan><tspan dy="-3.8" font-size="12.3"> [MeV]</tspan></text>
<text x="183.10" y="182.20" text-anchor="middle" font-family="Liberation Serif, serif" font-size="16.5">(c)</text>
</g>
<g>
<clipPath id="clipd"><rect x="256.30" y="162.10" width="144.20" height="103.20"/></clipPath>
<path d="M257.74,194.26L258.17,194.35 258.79,194.48 259.45,194.61 260.14,194.76 260.84,194.90 261.54,195.05 262.22,195.20 262.89,195.34 263.51,195.48 264.11,195.63 264.71,195.79 265.31,195.95 265.91,196.12 266.51,196.29 267.12,196.46 267.72,196.63 268.32,196.79 268.92,196.93 269.52,197.06 270.12,197.17 270.72,197.25 271.32,197.33 271.92,197.39 272.52,197.45 273.12,197.50 273.72,197.53 274.33,197.56 274.93,197.56 275.53,197.55 276.13,197.51 276.73,197.45 277.33,197.37 277.93,197.25 278.54,197.11 279.15,196.94 279.77,196.75 280.39,196.52 281.01,196.28 281.63,196.02 282.24,195.75 282.84,195.46 283.44,195.16 284.02,194.85 284.59,194.53 285.14,194.22 285.67,193.88 286.19,193.51 286.70,193.11 287.20,192.69 287.68,192.26 288.16,191.83 288.63,191.41 289.09,191.00 289.55,190.61 290.01,190.25 290.46,189.93 290.91,189.66 291.36,189.43 291.80,189.20 292.24,188.98 292.67,188.78 293.10,188.61 293.52,188.46 293.94,188.35 294.35,188.27 294.76,188.23 295.16,188.24 295.56,188.29 295.95,188.40 296.34,188.57 296.72,188.80 297.09,189.08 297.45,189.41 297.81,189.78 298.16,190.19 298.52,190.62 298.87,191.07 299.22,191.54 299.57,192.01 299.92,192.49 300.28,192.95 300.64,193.44 301.00,193.97 301.36,194.52 301.72,195.10 302.08,195.69 302.44,196.29 302.80,196.89 303.17,197.47 303.53,198.04 303.89,198.57 304.25,199.07 304.61,199.53 304.97,199.95 305.33,200.35 305.69,200.73 306.05,201.09 306.41,201.43 306.77,201.75 307.13,202.05 307.49,202.33 307.85,202.60 308.21,202.86 308.57,203.10 308.93,203.33 309.29,203.52 309.65,203.68 310.01,203.80 310.38,203.89 310.74,203.97 311.10,204.04 311.46,204.11 311.82,204.20 312.18,204.31 312.54,204.44 312.90,204.62 313.26,204.84 313.62,205.12 313.99,205.43 314.35,205.77 314.72,206.14 315.08,206.53 315.45,206.93 315.81,207.35 316.18,207.77 316.53,208.19 316.89,208.60 317.24,209.01 317.58,209.40 317.93,209.79 318.27,210.19 318.60,210.61 318.94,211.02 319.27,211.44 319.59,211.86 319.92,212.26 320.24,212.65 320.56,213.02 320.87,213.36 321.18,213.68 321.48,213.95 321.78,214.20 322.07,214.41 322.36,214.60 322.64,214.76 322.92,214.91 323.20,215.04 323.47,215.15 323.74,215.25 324.01,215.34 324.27,215.43 324.54,215.51 324.80,215.60 325.04,215.68 325.28,215.75 325.50,215.81 325.71,215.87 325.92,215.92 326.13,215.95 326.35,215.98 326.57,216.00 326.82,216.01 327.08,216.01 327.36,216.00 327.68,215.98 328.03,215.94 328.41,215.89 328.82,215.83 329.25,215.75 329.70,215.67 330.16,215.57 330.62,215.48 331.07,215.37 331.51,215.27 331.94,215.16 332.35,215.06 332.73,214.97 333.07,214.87 333.38,214.77 333.66,214.68 333.93,214.58 334.18,214.48 334.44,214.38 334.70,214.28 334.97,214.17 335.26,214.06 335.58,213.94 335.93,213.82 336.33,213.70 336.78,213.57 337.26,213.42 337.78,213.26 338.33,213.10 338.90,212.93 339.49,212.77 340.07,212.60 340.66,212.44 341.23,212.29 341.79,212.16 342.32,212.03 342.82,211.93 343.29,211.84 343.73,211.76 344.15,211.68 344.56,211.62 344.95,211.56 345.34,211.52 345.73,211.48 346.13,211.45 346.54,211.43 346.96,211.42 347.40,211.42 347.87,211.42 348.35,211.44 348.86,211.47 349.37,211.52 349.90,211.57 350.43,211.64 350.98,211.71 351.53,211.78 352.09,211.86 352.65,211.94 353.22,212.03 353.79,212.11 354.36,212.18 354.92,212.26 355.48,212.34 356.04,212.43 356.60,212.52 357.16,212.61 357.74,212.70 358.32,212.80 358.92,212.88 359.54,212.97 360.19,213.05 360.86,213.13 361.57,213.19 362.25,213.26 362.86,213.31 363.45,213.37 364.02,213.42 364.62,213.47 365.26,213.51 365.98,213.55 366.80,213.59 367.75,213.62 368.86,213.65 370.15,213.68 371.66,213.70 373.50,213.72 375.72,213.73 378.23,213.74 380.95,213.74 383.81,213.74 386.71,213.73 389.58,213.73 392.33,213.72 394.88,213.71 397.15,213.71 399.05,213.70 400.50,213.70" fill="none" stroke="#ff0000" stroke-width="1.7" clip-path="url(#clipd)"/>
<path d="M257.74,197.00L257.74,197.00 257.86,197.49 257.98,197.99 258.10,198.49 258.22,198.99 258.34,199.49 258.46,199.97 258.58,200.45 258.70,200.92 258.82,201.37 258.94,201.79 259.06,202.19 259.18,202.57 259.30,202.91 259.41,203.23 259.51,203.53 259.61,203.80 259.71,204.06 259.81,204.31 259.92,204.54 260.04,204.76 260.16,204.98 260.30,205.19 260.46,205.39 260.63,205.60 260.81,205.81 261.01,206.02 261.21,206.23 261.43,206.42 261.65,206.62 261.89,206.80 262.13,206.97 262.39,207.13 262.65,207.28 262.93,207.41 263.21,207.53 263.51,207.63 263.82,207.71 264.13,207.78 264.46,207.83 264.80,207.88 265.15,207.90 265.51,207.92 265.88,207.92 266.26,207.91 266.64,207.89 267.03,207.86 267.43,207.81 267.84,207.75 268.25,207.68 268.69,207.59 269.15,207.48 269.61,207.36 270.08,207.23 270.56,207.08 271.04,206.93 271.51,206.77 271.98,206.61 272.44,206.44 272.89,206.27 273.32,206.11 273.73,205.94 274.13,205.78 274.52,205.60 274.91,205.43 275.28,205.24 275.66,205.06 276.03,204.87 276.40,204.67 276.78,204.47 277.15,204.26 277.54,204.05 277.93,203.83 278.33,203.61 278.73,203.39 279.13,203.17 279.53,202.94 279.94,202.71 280.35,202.47 280.75,202.23 281.17,201.97 281.58,201.70 282.00,201.41 282.41,201.11 282.83,200.80 283.26,200.46 283.69,200.10 284.13,199.73 284.57,199.34 285.02,198.95 285.46,198.54 285.91,198.12 286.35,197.70 286.78,197.27 287.21,196.84 287.62,196.41 288.02,195.99 288.41,195.57 288.76,195.15 289.10,194.72 289.42,194.29 289.74,193.86 290.06,193.43 290.39,192.99 290.73,192.54 291.09,192.09 291.47,191.63 291.89,191.16 292.35,190.68 292.86,190.17 293.42,189.62 294.02,189.04 294.65,188.45 295.30,187.84 295.95,187.25 296.61,186.66 297.26,186.10 297.89,185.58 298.49,185.11 299.05,184.70 299.56,184.35 300.02,184.07 300.43,183.83 300.81,183.62 301.16,183.46 301.49,183.34 301.81,183.25 302.13,183.19 302.44,183.16 302.77,183.17 303.11,183.20 303.48,183.26 303.89,183.34 304.31,183.44 304.75,183.56 305.19,183.70 305.65,183.86 306.11,184.06 306.59,184.29 307.08,184.56 307.57,184.87 308.08,185.23 308.59,185.64 309.12,186.10 309.65,186.63 310.20,187.24 310.77,187.94 311.36,188.72 311.95,189.56 312.56,190.45 313.17,191.37 313.79,192.31 314.41,193.25 315.03,194.18 315.65,195.09 316.26,195.95 316.86,196.75 317.46,197.52 318.07,198.28 318.67,199.04 319.27,199.79 319.87,200.53 320.47,201.26 321.07,201.96 321.67,202.64 322.27,203.30 322.87,203.93 323.47,204.53 324.07,205.10 324.68,205.63 325.29,206.14 325.91,206.61 326.53,207.07 327.15,207.49 327.77,207.90 328.38,208.28 328.99,208.64 329.58,208.98 330.17,209.31 330.73,209.61 331.28,209.91 331.81,210.17 332.30,210.42 332.78,210.63 333.23,210.82 333.68,211.00 334.12,211.15 334.57,211.30 335.02,211.43 335.49,211.56 335.98,211.68 336.50,211.80 337.05,211.93 337.62,212.05 338.20,212.16 338.78,212.26 339.38,212.35 339.98,212.44 340.61,212.51 341.26,212.59 341.94,212.66 342.65,212.73 343.39,212.80 344.16,212.87 344.98,212.94 345.75,213.02 346.42,213.09 347.02,213.17 347.60,213.24 348.21,213.31 348.90,213.38 349.72,213.45 350.70,213.51 351.89,213.57 353.35,213.62 355.12,213.66 357.24,213.70 359.90,213.73 363.16,213.74 366.89,213.75 370.97,213.76 375.26,213.75 379.64,213.75 383.97,213.74 388.14,213.73 392.00,213.72 395.43,213.71 398.31,213.70 400.50,213.70" fill="none" stroke="#0000ff" stroke-width="1.7" stroke-dasharray="5.8 4.6" clip-path="url(#clipd)"/>
<path d="M257.74,208.03L258.17,208.00 258.79,207.96 259.45,207.91 260.14,207.86 260.84,207.79 261.54,207.71 262.22,207.61 262.89,207.50 263.51,207.38 264.11,207.23 264.71,207.07 265.31,206.90 265.91,206.71 266.51,206.51 267.12,206.30 267.72,206.08 268.32,205.85 268.92,205.61 269.52,205.36 270.12,205.11 270.72,204.84 271.32,204.58 271.92,204.31 272.52,204.04 273.12,203.77 273.72,203.48 274.33,203.18 274.93,202.87 275.53,202.55 276.13,202.21 276.73,201.84 277.33,201.46 277.93,201.05 278.53,200.62 279.13,200.19 279.73,199.74 280.33,199.27 280.93,198.79 281.54,198.28 282.14,197.76 282.74,197.21 283.34,196.63 283.94,196.03 284.54,195.39 285.14,194.72 285.74,194.01 286.34,193.23 286.94,192.40 287.54,191.54 288.14,190.65 288.75,189.74 289.35,188.83 289.95,187.93 290.55,187.05 291.15,186.19 291.75,185.37 292.35,184.60 292.96,183.86 293.59,183.12 294.22,182.38 294.86,181.65 295.50,180.94 296.14,180.26 296.76,179.60 297.37,178.98 297.96,178.41 298.53,177.88 299.06,177.42 299.56,177.02 300.02,176.67 300.43,176.36 300.81,176.11 301.16,175.89 301.49,175.72 301.81,175.59 302.13,175.51 302.44,175.47 302.77,175.47 303.11,175.52 303.48,175.61 303.89,175.75 304.31,175.93 304.75,176.14 305.19,176.39 305.65,176.69 306.11,177.03 306.59,177.41 307.08,177.84 307.57,178.33 308.08,178.86 308.59,179.45 309.12,180.10 309.65,180.81 310.22,181.62 310.82,182.57 311.46,183.63 312.11,184.76 312.77,185.95 313.44,187.17 314.09,188.38 314.73,189.56 315.33,190.69 315.90,191.73 316.41,192.67 316.86,193.46 317.25,194.12 317.58,194.67 317.86,195.13 318.09,195.51 318.30,195.84 318.49,196.13 318.66,196.40 318.84,196.66 319.03,196.94 319.23,197.25 319.47,197.60 319.75,198.01 320.05,198.48 320.35,198.97 320.66,199.47 320.98,199.99 321.30,200.52 321.64,201.07 321.99,201.61 322.36,202.17 322.76,202.72 323.17,203.26 323.61,203.81 324.07,204.34 324.57,204.88 325.11,205.43 325.67,206.00 326.26,206.57 326.87,207.14 327.50,207.71 328.13,208.26 328.77,208.80 329.41,209.31 330.05,209.80 330.67,210.25 331.28,210.66 331.89,211.04 332.52,211.39 333.15,211.71 333.79,212.01 334.43,212.29 335.07,212.55 335.69,212.78 336.30,213.00 336.89,213.20 337.46,213.38 337.99,213.55 338.49,213.70 338.95,213.83 339.35,213.94 339.71,214.02 340.04,214.08 340.35,214.13 340.66,214.16 340.96,214.18 341.27,214.19 341.60,214.19 341.97,214.19 342.37,214.20 342.82,214.21 343.32,214.21 343.85,214.21 344.42,214.20 345.01,214.18 345.62,214.15 346.24,214.13 346.88,214.10 347.52,214.07 348.16,214.03 348.79,214.00 349.42,213.98 350.03,213.95 350.52,213.93 350.81,213.91 350.99,213.88 351.10,213.86 351.21,213.83 351.38,213.81 351.68,213.79 352.17,213.77 352.90,213.75 353.95,213.73 355.38,213.71 357.24,213.70 359.72,213.69 362.86,213.69 366.53,213.68 370.59,213.68 374.90,213.68 379.32,213.68 383.72,213.69 387.95,213.69 391.88,213.69 395.38,213.70 398.29,213.70 400.50,213.70" fill="none" stroke="#ff00ff" stroke-width="1.7" stroke-dasharray="1.9 2.4" clip-path="url(#clipd)"/>
<rect x="256.30" y="163.10" width="144.20" height="101.20" fill="none" stroke="#000" stroke-width="1.35"/>
<path d="M285.14,264.30v-5M285.14,163.10v5M313.98,264.30v-5M313.98,163.10v5M342.82,264.30v-5M342.82,163.10v5M371.66,264.30v-5M371.66,163.10v5M256.30,188.40h5M400.50,188.40h-5M256.30,213.70h5M400.50,213.70h-5M256.30,239.00h5M400.50,239.00h-5" stroke="#000" stroke-width="1.35" fill="none"/>
<text x="258.10" y="280.50" text-anchor="middle" font-family="Liberation Sans, sans-serif" font-size="12">0</text>
<text x="286.94" y="280.50" text-anchor="middle" font-family="Liberation Sans, sans-serif" font-size="12">2</text>
<text x="315.78" y="280.50" text-anchor="middle" font-family="Liberation Sans, sans-serif" font-size="12">4</text>
<text x="344.62" y="280.50" text-anchor="middle" font-family="Liberation Sans, sans-serif" font-size="12">6</text>
<text x="373.46" y="280.50" text-anchor="middle" font-family="Liberation Sans, sans-serif" font-size="12">8</text>
<text x="402.30" y="280.50" text-anchor="middle" font-family="Liberation Sans, sans-serif" font-size="12">10</text>
<text x="249.10" y="168.10" text-anchor="end" font-family="Liberation Sans, sans-serif" font-size="12">0.2</text>
<text x="249.10" y="193.40" text-anchor="end" font-family="Liberation Sans, sans-serif" font-size="12">0.1</text>
<text x="249.10" y="218.70" text-anchor="end" font-family="Liberation Sans, sans-serif" font-size="12">0</text>
<text x="249.10" y="244.00" text-anchor="end" font-family="Liberation Sans, sans-serif" font-size="12">-0.1</text>
<text x="249.10" y="269.30" text-anchor="end" font-family="Liberation Sans, sans-serif" font-size="12">-0.2</text>
<text x="312.20" y="299.30" font-family="Liberation Serif, serif" font-size="12"><tspan font-style="italic">R</tspan><tspan dx="4.3" font-size="11.6">[fm]</tspan></text>
<text transform="translate(222.80,210.30) rotate(-90)" text-anchor="middle" font-family="Liberation Serif, serif" font-size="12"><tspan font-style="italic">W</tspan><tspan font-size="10.7" dy="3.8">LS</tspan><tspan dy="-3.8" font-size="12.3"> [MeV]</tspan></text>
<text x="382.10" y="182.20" text-anchor="middle" font-family="Liberation Serif, serif" font-size="16.5">(d)</text>
</g>
</svg>
</body></html>
